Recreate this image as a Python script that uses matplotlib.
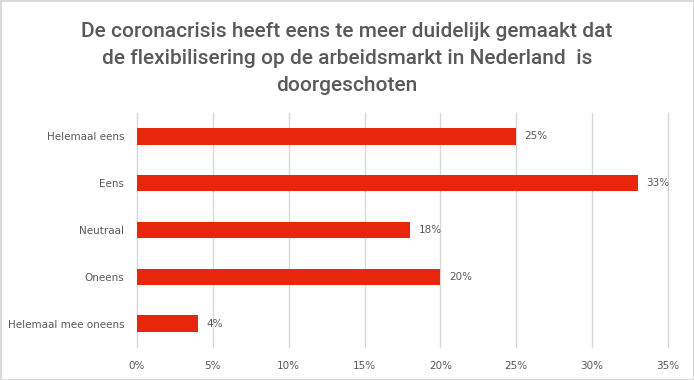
import matplotlib
matplotlib.use("Agg")
import matplotlib.pyplot as plt
from matplotlib.patches import Rectangle
from matplotlib import font_manager as fm

categories = ["Helemaal eens", "Eens", "Neutraal", "Oneens", "Helemaal mee oneens"]
values = [25, 33, 18, 20, 4]
xticks = [0, 5, 10, 15, 20, 25, 30, 35]
title = ("De coronacrisis heeft eens te meer duidelijk gemaakt dat\n"
         "de flexibilisering op de arbeidsmarkt in Nederland  is\n"
         "doorgeschoten")

text_color = "#595959"
bar_color = "#E8260C"

def find_font(fname):
    for f in fm.fontManager.ttflist:
        if f.fname.split("/")[-1] == fname:
            return fm.FontProperties(fname=f.fname)
    return None

title_fp = find_font("Roboto-Medium.ttf") or fm.FontProperties(family="Roboto", weight="medium")
title_fp.set_size(15)

fig = plt.figure(figsize=(6.94, 3.80), dpi=100)
fig.patch.set_facecolor("white")
ax = fig.add_axes([137/694, 1-347/380, (668-137)/694, (347-113)/380])

ypos = list(range(len(categories)))
ax.barh(ypos, values, height=0.35, color=bar_color, zorder=3)
ax.set_ylim(len(categories)-0.5, -0.5)
ax.set_xlim(0, 35)
ax.set_yticks(ypos)
ax.set_yticklabels(categories, fontsize=7.5, color=text_color)
ax.set_xticks(xticks)
ax.set_xticklabels([f"{t}%" for t in xticks], fontsize=7.5, color=text_color)
ax.tick_params(axis="both", length=0)
ax.tick_params(axis="y", pad=9)
ax.tick_params(axis="x", pad=10)
ax.grid(axis="x", color="#D9D9D9", linewidth=1, zorder=0)
for gl in ax.get_xgridlines():
    gl.set_clip_on(False)
for s in ax.spines.values():
    s.set_visible(False)

for y, v in zip(ypos, values):
    ax.annotate(f"{v}%", (v, y), xytext=(6, 0), textcoords="offset points",
                va="center", ha="left", fontsize=7.5, color=text_color)

fig.text(0.5, 1-58.5/380, title, ha="center", va="center", fontproperties=title_fp,
         color=text_color, linespacing=1.55)

fig.add_artist(Rectangle((0.5/694, 0.5/380), 1-1/694, 1-1/380, transform=fig.transFigure,
                         fill=False, edgecolor="#D9D9D9", linewidth=1.5))

fig.savefig("out.png", dpi=100)
